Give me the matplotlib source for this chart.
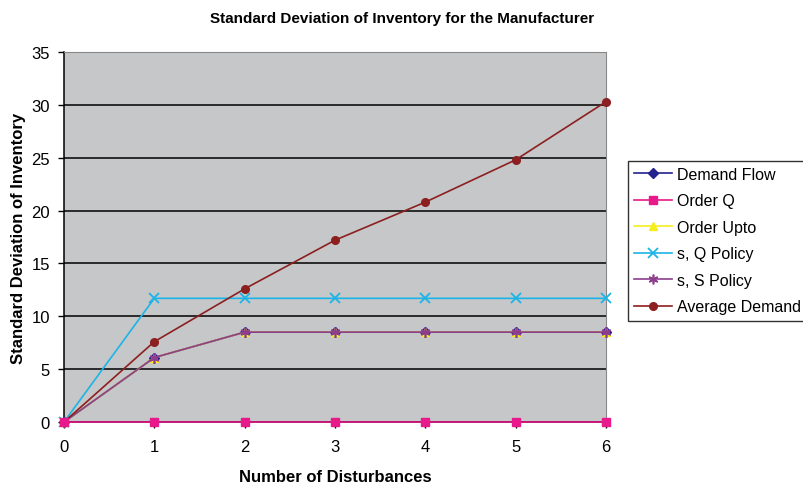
import matplotlib.pyplot as plt

plt.rcParams["font.family"] = ["Liberation Sans", "DejaVu Sans"]

# ------------------------------------------------------
# Data
# ------------------------------------------------------

disturbances = [0, 1, 2, 3, 4, 5, 6]

demand_flow = [0, 6.1, 8.5, 8.5, 8.5, 8.5, 8.5]
order_q = [0, 0, 0, 0, 0, 0, 0]
order_upto = [0, 6.1, 8.5, 8.5, 8.5, 8.5, 8.5]
sq_policy = [0, 11.7, 11.7, 11.7, 11.7, 11.7, 11.7]
ss_policy = [0, 6.1, 8.5, 8.5, 8.5, 8.5, 8.5]
average_demand = [0, 7.6, 12.6, 17.2, 20.8, 24.8, 30.3]

# ------------------------------------------------------
# Figure
# ------------------------------------------------------

fig = plt.figure(figsize=(8.04, 4.85), dpi=100)
ax = fig.add_axes([0.0796, 0.1278, 0.6741, 0.7629])
ax.set_facecolor("#c6c7c9")

common = dict(linewidth=1.2, clip_on=False)

ax.plot(disturbances, demand_flow, color="#23238e", marker="D",
        markersize=5, label="Demand Flow", zorder=3, **common)
ax.plot(disturbances, order_q, color="#e8198b", marker="s",
        markersize=6, label="Order Q", zorder=5, **common)
ax.plot(disturbances, order_upto, color="#f5ee1c", marker="^",
        markersize=6, label="Order Upto", zorder=3, **common)
ax.plot(disturbances, sq_policy, color="#1cb4e6", marker="x",
        markersize=7, markeredgewidth=1.3, label="s, Q Policy",
        zorder=3, **common)
ax.plot(disturbances, ss_policy, color="#8e3d8c", marker=(6, 2, 0),
        markersize=7, markeredgewidth=1.2, label="s, S Policy",
        zorder=3, **common)
ax.plot(disturbances, average_demand, color="#8c1f1f", marker="o",
        markersize=5.5, label="Average Demand", zorder=4, **common)

# ------------------------------------------------------
# Axes and grid
# ------------------------------------------------------

ax.set_xlim(0, 6)
ax.set_ylim(0, 35)
ax.set_xticks(disturbances)
ax.set_yticks(range(0, 36, 5))
ax.yaxis.grid(True, color="black", linewidth=1.1)
ax.set_axisbelow(True)
ax.tick_params(labelsize=12, length=4, width=1, colors="black")
ax.tick_params(axis="x", pad=8)
ax.tick_params(axis="y", pad=6)

for side in ["top", "right"]:
    ax.spines[side].set_color("#888888")
for side in ["left", "bottom"]:
    ax.spines[side].set_color("black")
    ax.spines[side].set_linewidth(1.1)

ax.set_xlabel("Number of Disturbances", fontsize=12, fontweight="bold",
              labelpad=11)
ax.set_ylabel("Standard Deviation of Inventory", fontsize=12,
              fontweight="bold", labelpad=4)
fig.text(0.5, 0.961, "Standard Deviation of Inventory for the Manufacturer",
         ha="center", va="center", fontsize=11, fontweight="bold")

leg = ax.legend(loc="center left", bbox_to_anchor=(1.04, 0.49),
                fontsize=11.5, frameon=True, fancybox=False,
                edgecolor="black", handlelength=2.4, labelspacing=0.72,
                borderpad=0.4, handletextpad=0.3, borderaxespad=0)
leg.get_frame().set_linewidth(1.0)

fig.savefig("out.png", dpi=100)
